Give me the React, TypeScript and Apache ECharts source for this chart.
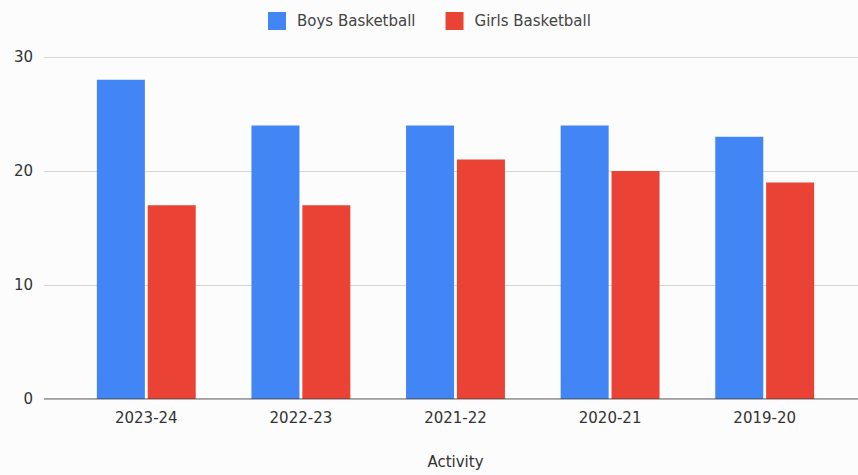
import React, { useEffect, useRef } from "react";
import * as echarts from "echarts";

const categories = ["2023-24", "2022-23", "2021-22", "2020-21", "2019-20"];
const boys = [28, 24, 24, 24, 23];
const girls = [17, 17, 21, 20, 19];
const yTicks = [0, 10, 20, 30];

export default function App() {
  const ref = useRef<HTMLDivElement>(null);
  useEffect(() => {
    if (!ref.current) return;
    const chart = echarts.init(ref.current, null, { renderer: "svg" });
    const font = "DejaVu Sans, Verdana, sans-serif";
    chart.setOption({
      animation: false,
      backgroundColor: "#fcfcfc",
      textStyle: { fontFamily: font },
      legend: {
        top: 7,
        left: 263,
        itemWidth: 18,
        itemHeight: 18,
        itemGap: 30,
        icon: "rect",
        textStyle: { fontSize: 15, color: "#444", fontFamily: font, padding: [0, 0, 0, 6] },
        data: ["Boys Basketball", "Girls Basketball"],
      },
      grid: [
        { left: 44, right: 0, top: 57, bottom: 76 },
        { left: 69, right: 16, top: 57, bottom: 76 },
      ],
      xAxis: [
        {
          gridIndex: 0,
          type: "value",
          show: false,
          min: 0,
          max: 1,
        },
        {
          gridIndex: 1,
          type: "category",
          data: categories,
          axisLine: { show: false },
          axisTick: { show: false },
          axisLabel: { fontSize: 15, color: "#333", margin: 11, fontFamily: font },
          name: "Activity",
          nameLocation: "middle",
          nameGap: 55,
          nameTextStyle: { fontSize: 15, color: "#333", fontFamily: font },
        },
      ],
      yAxis: [
        {
          gridIndex: 0,
          type: "value",
          min: yTicks[0],
          max: yTicks[yTicks.length - 1],
          interval: 10,
          axisLine: { show: false },
          axisTick: { show: false },
          splitLine: { lineStyle: { color: "#d6d6d6" } },
          axisLabel: { fontSize: 15, color: "#333", margin: 11, fontFamily: font },
        },
        {
          gridIndex: 1,
          type: "value",
          min: yTicks[0],
          max: yTicks[yTicks.length - 1],
          show: false,
        },
      ],
      series: [
        {
          type: "line",
          xAxisIndex: 0,
          yAxisIndex: 0,
          data: [
            [0, 0],
            [1, 0],
          ],
          symbol: "none",
          lineStyle: { color: "#444", width: 1 },
          silent: true,
          z: 5,
        },
        {
          name: "Boys Basketball",
          type: "bar",
          xAxisIndex: 1,
          yAxisIndex: 1,
          data: boys,
          barWidth: 48,
          barGap: "6%",
          itemStyle: { color: "#4285F4" },
          z: 3,
        },
        {
          name: "Girls Basketball",
          type: "bar",
          xAxisIndex: 1,
          yAxisIndex: 1,
          data: girls,
          barWidth: 48,
          barGap: "6%",
          itemStyle: { color: "#EA4335" },
          z: 3,
        },
      ],
    });
    return () => chart.dispose();
  }, []);
  return (
    <div
      ref={ref}
      style={{ position: "fixed", left: 0, top: 0, width: 858, height: 475 }}
    />
  );
}
